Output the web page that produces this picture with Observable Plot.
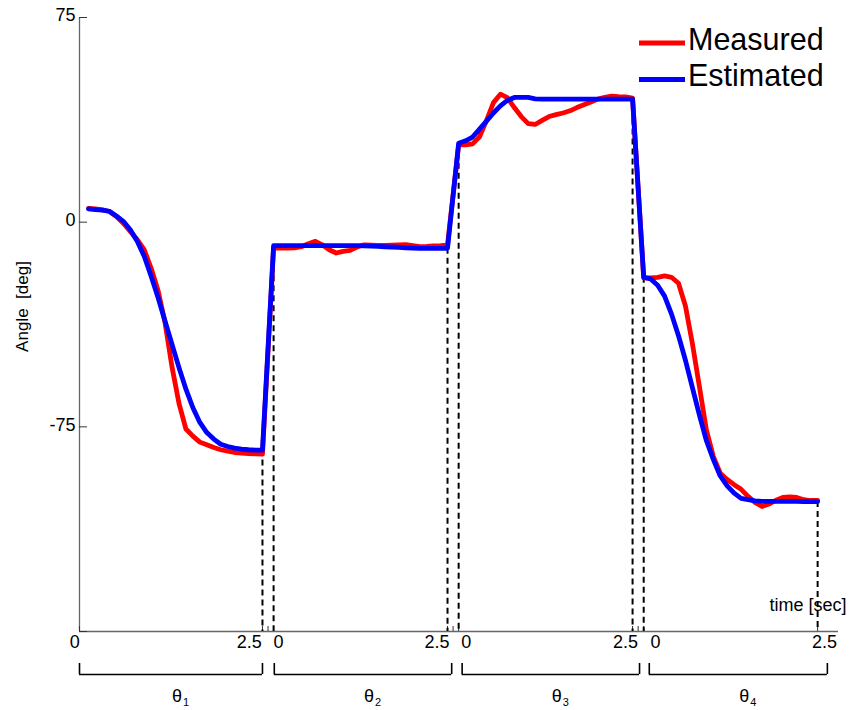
<!DOCTYPE html>
<html><head><meta charset="utf-8">
<script src="https://cdn.jsdelivr.net/npm/d3@7"></script>
<script src="https://cdn.jsdelivr.net/npm/@observablehq/plot@0.6"></script>
<style>
body{margin:0;background:#fff;font-family:"Liberation Sans",Arial,sans-serif;}
#wrap{position:relative;width:850px;height:710px;}
#legend{position:absolute;left:0;top:0;pointer-events:none;}
</style></head><body><div id="wrap"></div>
<script>
// ---- data ----
const segmentNames = ["θ", "θ", "θ", "θ"];
const segmentSub = ["1", "2", "3", "4"];
const segOffset = [0, 2.66, 5.32, 7.98];        // global start (s) of each 2.5 s window
const tLocal = [0,0.1,0.2,0.3,0.4,0.5,0.6,0.7,0.8,0.9,1.0,1.1,1.2,1.3,1.4,1.5,1.6,1.7,1.8,1.9,2.0,2.1,2.2,2.3,2.4,2.5];

const measured1 = [5.0,4.9,4.5,3.9,2.1,-0.4,-3.4,-6.4,-10.1,-16.9,-25.1,-36.9,-53.1,-66.4,-75.8,-78.4,-80.6,-81.6,-82.6,-83.4,-83.9,-84.4,-84.6,-84.8,-84.9,-85.0];
const estimated1 = [4.9,4.6,4.4,4.0,2.3,0.3,-2.8,-7.0,-12.5,-19.8,-27.7,-36.3,-44.8,-53.3,-61.2,-68.0,-73.4,-77.1,-79.5,-81.4,-82.2,-82.8,-83.2,-83.4,-83.5,-83.5];
const measured2 = [-9.5,-9.5,-9.5,-9.4,-9.0,-7.9,-7.0,-8.3,-10.1,-11.3,-10.7,-10.3,-9.1,-8.3,-8.4,-8.5,-8.5,-8.4,-8.3,-8.2,-8.6,-9.0,-8.9,-8.7,-8.6,-8.4];
const estimated2 = [-8.6,-8.6,-8.6,-8.6,-8.6,-8.6,-8.6,-8.6,-8.6,-8.6,-8.6,-8.6,-8.6,-8.7,-8.8,-8.9,-9.0,-9.1,-9.2,-9.4,-9.5,-9.6,-9.6,-9.6,-9.6,-9.6];
const measured3 = [28.3,28.3,28.7,31.3,37.2,43.8,46.9,45.6,42.0,38.7,36.1,35.8,37.3,38.7,39.4,40.0,40.8,42.0,43.0,44.0,45.1,45.7,46.2,46.0,45.9,45.5];
const estimated3 = [28.9,29.8,31.2,34.1,37.0,40.0,42.6,44.6,45.7,45.7,45.7,45.2,45.1,45.1,45.1,45.1,45.1,45.1,45.1,45.1,45.1,45.1,45.1,45.1,45.1,45.1];
const measured4 = [-20.4,-20.4,-20.2,-19.7,-20.2,-22.4,-30.7,-44.5,-60.2,-76.0,-85.8,-92.0,-94.3,-96.2,-97.9,-100.5,-102.7,-104.2,-103.3,-101.9,-100.9,-100.7,-100.9,-101.7,-102.0,-102.0];
const estimated4 = [-20.2,-20.8,-23.1,-27.1,-33.7,-41.6,-50.6,-60.6,-70.6,-80.0,-86.9,-93.0,-96.6,-99.3,-101.2,-101.7,-102.1,-102.3,-102.3,-102.3,-102.3,-102.3,-102.3,-102.4,-102.4,-102.4];

const yTicks = [75, 0, -75, -150];
const yTickLabels = ["75", "0", "-75", ""];
const xTickLabelText = ["0","2.5","0","2.5","0","2.5","0","2.5"];
const xTickLabelAt = [-0.20, 2.31, 2.73, 5.01, 5.43, 7.72, 8.15, 10.58];
const braceStart = [-0.13, 2.67, 5.37, 8.06];
const braceEnd = [2.50, 5.22, 7.92, 10.62];
const xMin = -0.13, xMax = 10.78, yMin = -150, yMax = 75;

// ---- build tables ----
const measuredSegs = [measured1, measured2, measured3, measured4];
const estimatedSegs = [estimated1, estimated2, estimated3, estimated4];
function toRows(segs) {
  const rows = [];
  segs.forEach((vals, k) => vals.forEach((v, i) => rows.push({g: segOffset[k] + tLocal[i], v})));
  return rows;
}
const measRows = toRows(measuredSegs);
const estRows = toRows(estimatedSegs);
const last = tLocal.length - 1;
const dashRows = [];
estimatedSegs.forEach((vals, k) => {
  if (k > 0) dashRows.push({g: segOffset[k] + tLocal[0], v: vals[0]});
  dashRows.push({g: segOffset[k] + tLocal[last], v: vals[last]});
});
const axisTickX = [xMin];
segOffset.forEach((o, k) => {
  const end = o + tLocal[last];
  axisTickX.push(end);
  if (k < segOffset.length - 1) { axisTickX.push((end + segOffset[k + 1]) / 2); axisTickX.push(segOffset[k + 1]); }
});
const idx4 = [0, 1, 2, 3];

const font = "'Liberation Sans', Arial, sans-serif";
const chart = Plot.plot({
  width: 850, height: 710,
  marginLeft: 79, marginRight: 12, marginTop: 17, marginBottom: 79,
  x: {domain: [xMin, xMax], axis: null},
  y: {domain: [yMin, yMax], axis: null},
  style: {fontFamily: font, background: "white", color: "black", overflow: "visible"},
  marks: [
    Plot.ruleY([yMin], {stroke: "#666", strokeWidth: 1.3}),
    Plot.ruleX([xMin], {stroke: "#666", strokeWidth: 1.3}),
    Plot.tickY(yTicks, {y: d => d, insetRight: 751, stroke: "#333", strokeWidth: 1}),
    Plot.tickX(axisTickX, {x: d => d, insetTop: 609, stroke: "#333", strokeWidth: 1}),
    Plot.text(yTicks, {y: d => d, text: (d, i) => yTickLabels[i], frameAnchor: "left", textAnchor: "end", dx: -4, dy: -2, lineAnchor: "middle", fontSize: 18, fill: "black"}),
    Plot.text(xTickLabelAt, {x: d => d, text: (d, i) => xTickLabelText[i], frameAnchor: "bottom", dy: 11, lineAnchor: "middle", fontSize: 18, fill: "black"}),
    Plot.ruleX(dashRows, {x: "g", y1: "v", y2: yMin, stroke: "black", strokeWidth: 2, strokeDasharray: "6,4"}),
    Plot.line(measRows, {x: "g", y: "v", stroke: "#ff0000", strokeWidth: 4.8, strokeLinejoin: "round"}),
    Plot.line(estRows, {x: "g", y: "v", stroke: "#0000ff", strokeWidth: 4.8, strokeLinejoin: "round"}),
    // braces
    Plot.tickX(braceStart.concat(braceEnd), {x: d => d, insetTop: 646, insetBottom: -43, stroke: "black", strokeWidth: 1.6}),
    Plot.ruleY(idx4, {x1: i => braceStart[i], x2: i => braceEnd[i], y: yMin, dy: 43, stroke: "black", strokeWidth: 1.6}),
    Plot.text(idx4, {x: i => (braceStart[i] + braceEnd[i]) / 2, text: i => segmentNames[i], frameAnchor: "bottom", dx: 6, dy: 70, lineAnchor: "bottom", fontSize: 18, fill: "black"}),
    Plot.text(idx4, {x: i => (braceStart[i] + braceEnd[i]) / 2, text: i => segmentSub[i], frameAnchor: "bottom", textAnchor: "start", dx: 12, dy: 74, lineAnchor: "bottom", fontSize: 11, fill: "black"}),
    Plot.text(["time [sec]"], {text: d => d, frameAnchor: "bottom-right", textAnchor: "start", dx: -69, dy: -21, lineAnchor: "bottom", fontSize: 18, fill: "black"}),
    Plot.text(["Angle\u00a0 [deg]"], {text: d => d, frameAnchor: "left", textAnchor: "middle", rotate: -90, dx: -57, dy: -18, lineAnchor: "middle", fontSize: 17, fill: "black"})
  ]
});
const wrap = document.getElementById("wrap");
wrap.appendChild(chart);

// legend overlay
const seriesNames = ["Measured", "Estimated"];
const seriesColors = ["#ff0000", "#0000ff"];
const lg = d3.select(wrap).append("svg").attr("id", "legend").attr("width", 850).attr("height", 100);
seriesNames.forEach((n, i) => {
  const yl = 43 + i * 36.5;
  lg.append("line").attr("x1", 639).attr("x2", 685).attr("y1", yl).attr("y2", yl)
    .attr("stroke", seriesColors[i]).attr("stroke-width", 5);
  lg.append("text").attr("x", 688).attr("y", 50 + i * 36).attr("font-family", font)
    .attr("font-size", 30.5).attr("fill", "black").text(n);
});
</script></body></html>
